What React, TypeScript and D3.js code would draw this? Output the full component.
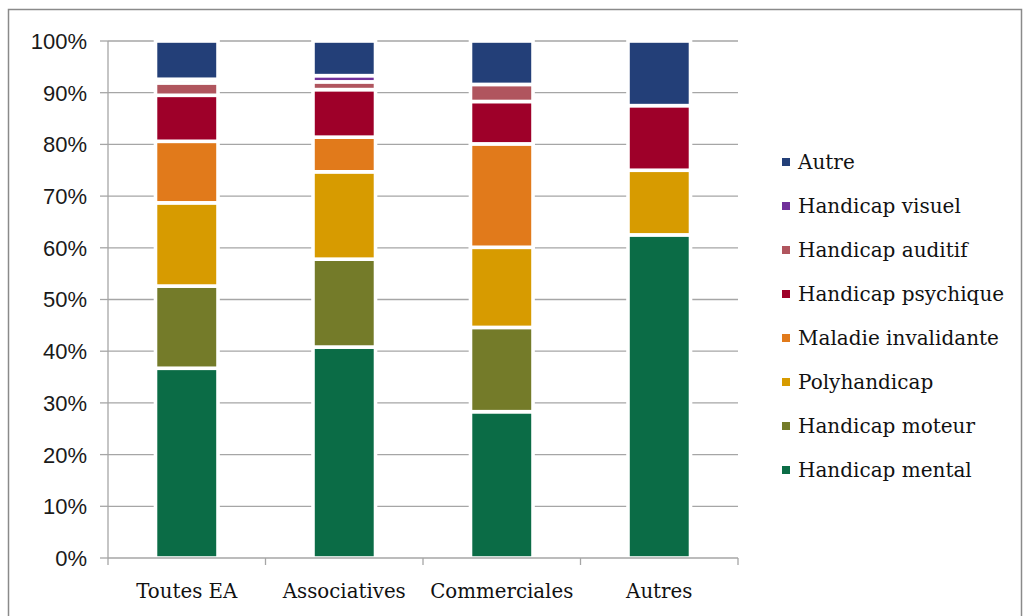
import React from "react";
import * as d3 from "d3";

const categories = ["Toutes EA", "Associatives", "Commerciales", "Autres"];

const seriesNames = [
  "Handicap mental",
  "Handicap moteur",
  "Polyhandicap",
  "Maladie invalidante",
  "Handicap psychique",
  "Handicap auditif",
  "Handicap visuel",
  "Autre",
];

const handicapMental = [36.7, 40.8, 28.3, 62.5];
const handicapMoteur = [15.9, 17.0, 16.3, 0];
const polyhandicap = [16.1, 16.9, 15.5, 12.5];
const maladieInvalidante = [11.9, 6.7, 20.0, 0];
const handicapPsychique = [8.9, 9.2, 8.2, 12.5];
const handicapAuditif = [2.4, 1.5, 3.3, 0];
const handicapVisuel = [0.7, 1.2, 0, 0];
const autre = [7.4, 6.7, 8.4, 12.5];

const seriesValues = [
  handicapMental,
  handicapMoteur,
  polyhandicap,
  maladieInvalidante,
  handicapPsychique,
  handicapAuditif,
  handicapVisuel,
  autre,
];

const seriesColors = [
  "#0b6c46",
  "#747b29",
  "#d79b00",
  "#e17a1b",
  "#9e0029",
  "#b0555e",
  "#70309a",
  "#233f78",
];

const yTicks = [0, 10, 20, 30, 40, 50, 60, 70, 80, 90, 100];

export default function App() {
  const W = 1024;
  const H = 616;
  const left = 108;
  const right = 738;
  const top = 41;
  const bottom = 558;

  const rows = categories.map((c, i) => {
    const r: any = { category: c };
    seriesNames.forEach((s, j) => (r[s] = seriesValues[j][i]));
    return r;
  });
  const stacked = d3.stack().keys(seriesNames)(rows);

  const x = d3
    .scaleBand<string>()
    .domain(categories)
    .range([left, right])
    .paddingInner(0.603)
    .paddingOuter(0.3015);
  const y = d3.scaleLinear().domain([0, 100]).range([bottom, top]);
  const step = x.step();
  const boundaries = d3.range(categories.length + 1).map((i) => left + i * step);

  const gridColor = "#a6a6a6";
  const serif = "'DejaVu Serif', serif";

  const legendOrder = seriesNames.map((_, i) => i).reverse();

  return (
    <svg
      width={W}
      height={H}
      style={{ position: "absolute", left: 0, top: 0, background: "#fff" }}
    >
      <rect x={0} y={0} width={W} height={H} fill="#fff" />
      <rect
        x={8.5}
        y={9.5}
        width={1013}
        height={640}
        fill="none"
        stroke="#8a8a8a"
        strokeWidth={1.5}
      />
      {yTicks.map((t) => (
        <g key={t}>
          {t > 0 && (
            <line
              x1={left}
              x2={right}
              y1={y(t)}
              y2={y(t)}
              stroke={gridColor}
              strokeWidth={1.3}
            />
          )}
          <line
            x1={left - 8}
            x2={left}
            y1={y(t)}
            y2={y(t)}
            stroke={gridColor}
            strokeWidth={1.3}
          />
          <text
            x={87}
            y={y(t)}
            dy="0.36em"
            textAnchor="end"
            fontFamily="'Liberation Sans', Arial, sans-serif"
            fontSize={22}
            fill="#1a1a1a"
          >
            {t}%
          </text>
        </g>
      ))}
      {stacked.map((layer, si) => (
        <g key={seriesNames[si]} fill={seriesColors[si]}>
          {layer.map((d, ci) => {
            const h = y(d[0]) - y(d[1]);
            if (h <= 0) return null;
            return (
              <rect
                key={ci}
                x={x(categories[ci])}
                y={y(d[1])}
                width={x.bandwidth()}
                height={h}
                stroke="#fff"
                strokeWidth={3.6}
              />
            );
          })}
        </g>
      ))}
      <line x1={left} x2={left} y1={top} y2={bottom} stroke={gridColor} strokeWidth={1.3} />
      <line x1={left} x2={right} y1={bottom} y2={bottom} stroke={gridColor} strokeWidth={1.3} />
      {boundaries.map((b, i) => (
        <line key={i} x1={b} x2={b} y1={bottom} y2={bottom + 7} stroke={gridColor} strokeWidth={1.3} />
      ))}
      {categories.map((c) => (
        <text
          key={c}
          x={(x(c) as number) + x.bandwidth() / 2}
          y={598}
          textAnchor="middle"
          fontFamily={serif}
          fontSize={19.8}
          fill="#111"
        >
          {c}
        </text>
      ))}
      {legendOrder.map((si, k) => {
        const cy = 162 + k * 44;
        return (
          <g key={si}>
            <rect x={782} y={cy - 4} width={8} height={8} fill={seriesColors[si]} />
            <text
              x={798}
              y={cy}
              dy="0.36em"
              fontFamily={serif}
              fontSize={20}
              fill="#111"
            >
              {seriesNames[si]}
            </text>
          </g>
        );
      })}
    </svg>
  );
}
